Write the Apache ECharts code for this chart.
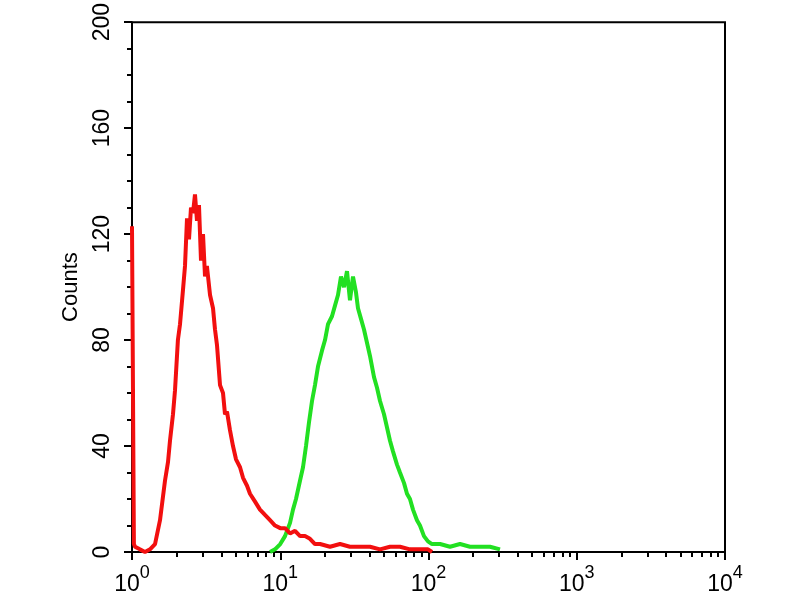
<!DOCTYPE html>
<html>
<head>
<meta charset="utf-8">
<title>Counts histogram</title>
<script src="https://cdn.jsdelivr.net/npm/echarts@6/dist/echarts.min.js"></script>
<style>
  html, body { margin: 0; padding: 0; background: #ffffff; }
  #chart { width: 800px; height: 600px; }
</style>
</head>
<body>
<div id="chart"></div>
<script>
// red histogram (control): fluorescence intensity / counts
const redX = [1, 1.03, 1.048, 1.13, 1.224, 1.323, 1.43, 1.545, 1.67, 1.75, 1.804, 1.89, 1.95, 2.04, 2.108, 2.208,
  2.278, 2.35, 2.424, 2.5, 2.58, 2.66, 2.744, 2.83, 2.92, 3.013, 3.108, 3.2, 3.36, 3.52, 3.63, 3.745, 3.924,
  4.11, 4.24, 4.373, 4.58, 4.8, 5.03, 5.354, 5.61, 5.97, 6.25, 6.76, 7.3, 7.89, 8.53, 9.22, 10, 10.77, 11.64,
  12.58, 13.6, 14.69, 15.87, 17.15, 18.54, 21.66, 25.3, 29.5, 34.5, 40.3, 47.1, 55, 64.2, 75, 87.6, 99.2, 105.6];
const redY = [123, 3, 2, 1, 0, 1, 3, 12, 27, 34, 42, 52, 61, 80, 86, 99,
  108, 126, 118, 130, 128, 135, 125, 131, 110, 120, 104, 108, 97, 92, 84, 78, 63,
  60, 52, 53, 46, 40, 35, 32, 28, 25, 22, 19, 16, 14, 12, 10, 9, 9, 7,
  8, 6, 6, 5, 3, 3, 2, 3, 2, 2, 2, 1, 2, 2, 1, 1, 1, 0];

// green histogram (stained)
const greenX = [8.53, 9.22, 10, 10.77, 11.64, 12.19, 12.77, 13.6, 14.24, 14.92, 15.63, 16.38, 17.15, 17.97,
  19.12, 20.04, 21.0, 22.34, 23.4, 24.52, 25.69, 26.92, 28.2, 29.54, 30.95, 32.43, 33.45, 35.05, 36.72,
  38.47, 40.3, 42.9, 44.95, 47.1, 50.1, 52.5, 55, 57.6, 61.3, 64.2, 68.4, 71.6, 75, 78.6, 83.6, 87.6, 93.2,
  99.2, 105.6, 119.6, 139.7, 163.1, 190.5, 222.6, 259.9, 303.6];
const greenY = [0, 1, 3, 6, 11, 16, 20, 27, 32, 40, 49, 57, 63, 70,
  76, 80, 86, 89, 93, 97, 104, 100, 106, 95, 104, 98, 92, 88, 84,
  79, 74, 66, 62, 57, 52, 47, 42, 38, 33, 30, 26, 22, 20, 16, 12, 10, 6,
  4, 3, 3, 2, 3, 2, 2, 2, 1];

// axis ticks
const decadeTicks = [1, 10, 100, 1000, 10000];
const minorLogTicks = [2, 3, 4, 5, 6, 7, 8, 9, 20, 30, 40, 50, 60, 70, 80, 90,
  200, 300, 400, 500, 600, 700, 800, 900, 2000, 3000, 4000, 5000, 6000, 7000, 8000, 9000];
const yTicks = { min: 0, max: 200, step: 40 };

function pairs(xs, ys) {
  return xs.map((x, i) => [x, ys[i]]);
}

const chart = echarts.init(document.getElementById("chart"));

const option = {
  animation: false,
  backgroundColor: "#ffffff",
  grid: {
    left: 132,
    right: 75,
    top: 21,
    bottom: 48,
    show: true,
    borderColor: "#000",
    borderWidth: 2,
  },
  xAxis: [
    {
      type: "log",
      logBase: 10,
      min: 1,
      max: 10000,
      axisLine: { show: true, lineStyle: { color: "#000", width: 2 } },
      axisTick: { show: true, customValues: decadeTicks, length: 8, lineStyle: { color: "#000", width: 2 } },
      splitLine: { show: false },
      axisLabel: {
        customValues: decadeTicks,
        margin: 12,
        formatter: function (v) {
          return "{b|10}{s|" + Math.round(Math.log10(v)) + "}";
        },
        rich: {
          b: { fontSize: 23, fontFamily: "Liberation Sans", color: "#000", lineHeight: 32, verticalAlign: "bottom" },
          s: { fontSize: 18, fontFamily: "Liberation Sans", color: "#000", lineHeight: 32, verticalAlign: "top" },
        },
      },
    },
    {
      // minor log ticks only
      type: "log",
      logBase: 10,
      min: 1,
      max: 10000,
      position: "bottom",
      axisLine: { show: false },
      axisLabel: { show: false },
      splitLine: { show: false },
      axisTick: { show: true, customValues: minorLogTicks, length: 5, lineStyle: { color: "#000", width: 2 } },
    },
  ],
  yAxis: {
    type: "value",
    min: yTicks.min,
    max: yTicks.max,
    interval: yTicks.step,
    name: "Counts",
    nameLocation: "middle",
    nameGap: 50,
    nameRotate: 90,
    nameTextStyle: { fontSize: 22, fontFamily: "Liberation Sans", color: "#000" },
    axisLine: { show: true, lineStyle: { color: "#000", width: 2 } },
    axisTick: { show: true, length: 8, lineStyle: { color: "#000", width: 2 } },
    minorTick: { show: true, splitNumber: 4, length: 5, lineStyle: { color: "#000", width: 2 } },
    splitLine: { show: false },
    axisLabel: {
      rotate: 90,
      margin: 18,
      fontSize: 23,
      fontFamily: "Liberation Sans",
      color: "#000",
    },
  },
  series: [
    {
      name: "control",
      type: "line",
      data: pairs(redX, redY),
      showSymbol: false,
      lineStyle: { color: "#f20f0f", width: 4 },
      z: 3,
    },
    {
      name: "stained",
      type: "line",
      data: pairs(greenX, greenY),
      showSymbol: false,
      lineStyle: { color: "#22e022", width: 4 },
      z: 2,
    },
  ],
};

chart.setOption(option);
</script>
</body>
</html>
